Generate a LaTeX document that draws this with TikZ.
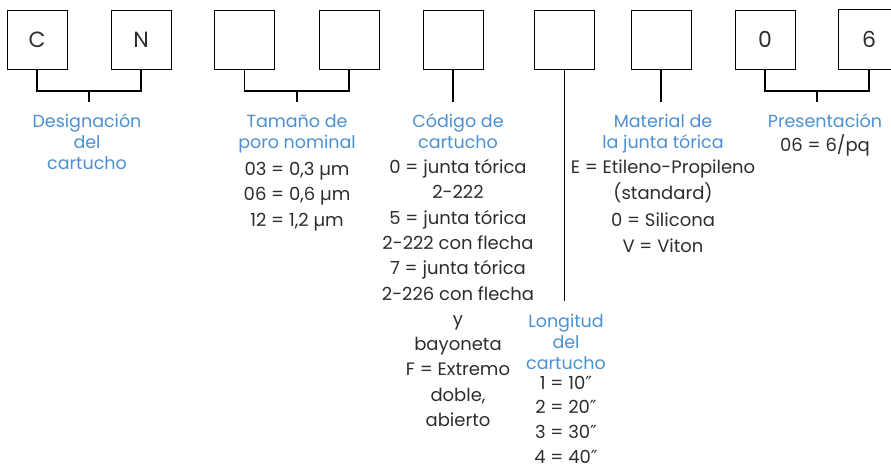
\documentclass[tikz,border=0pt]{standalone}
\usepackage{fontspec}
\setmainfont{Poppins}
\newfontfamily\dvfont{DejaVu Sans}
\newcommand{\dprime}{{\dvfont ″}}
\definecolor{tblue}{RGB}{74,144,210}
\definecolor{tgray}{RGB}{45,45,45}
\begin{document}
\begin{tikzpicture}[x=1pt,y=-1pt,
  cbox/.style={draw=black,line width=0.8pt,minimum width=60pt,minimum height=59pt,inner sep=0pt,font=\fontsize{22}{22}\selectfont,text=tgray},
  conn/.style={line width=1.6pt,black},
  ttl/.style={anchor=base,align=center,inner sep=0pt,text=tblue,font=\fontsize{17.5}{21}\selectfont},
  body/.style={anchor=base,align=center,inner sep=0pt,text=tgray,font=\fontsize{18}{25.3}\selectfont}]
\useasboundingbox (0,0) rectangle (891,469);
% boxes
\node[cbox] (b1) at (37,39.5) {C};
\node[cbox] (b2) at (141,39.5) {N};
\node[cbox] (b3) at (244.5,39.5) {};
\node[cbox] (b4) at (349,39.5) {};
\node[cbox] (b5) at (453,39.5) {};
\node[cbox] (b6) at (564.5,39.5) {};
\node[cbox] (b7) at (661,39.5) {};
\node[cbox] (b8) at (765,39.5) {0};
\node[cbox,draw=none] (b9) at (869,39.5) {6};
\coordinate (redge) at (891,0);
\draw[line width=0.8pt] (b9.north west -| redge) -- (b9.north west) -- (b9.south west) -- (b9.south west -| redge);
% junction coordinates
\coordinate (j1) at (89,102);
\coordinate (j2) at (296.75,102);
\coordinate (j5) at (453,102);
\coordinate (j6) at (564.5,301);
\coordinate (j7) at (661,102);
\coordinate (j8) at (817,102);
\coordinate (h) at (0,90.7);
% connectors
\draw[conn] (b1.south) -- (b1.south |- h) -- (b2.south |- h) -- (b2.south);
\draw[conn] (j1 |- h) -- (j1);
\draw[conn] (b3.south) -- (b3.south |- h) -- (b4.south |- h) -- (b4.south);
\draw[conn] (j2 |- h) -- (j2);
\draw[conn] (b5.south) -- (j5);
\draw[conn] (b6.south) -- (j6);
\draw[conn] (b7.south) -- (j7);
\draw[conn] (b8.south) -- (b8.south |- h) -- (b9.south |- h) -- (b9.south);
\draw[conn] (j8 |- h) -- (j8);
% labels (anchor base = baseline of the last line)
\node[ttl] (t1) at (87,169) {Designación\\del\\cartucho};
\node[ttl] (t2) at (297,148) {Tamaño de\\poro nominal};
\node[body] (d2) at (297,226) {03 = 0,3 µm\\06 = 0,6 µm\\12 = 1,2 µm};
\node[ttl] (t3) at (458,148) {Código de\\cartucho};
\node[body] (d3) at (458,426.5) {0 = junta tórica\\2-222\\5 = junta tórica\\2-222 con flecha\\7 = junta tórica\\2-226 con flecha\\y\\bayoneta\\F = Extremo\\doble,\\abierto};
\node[ttl] (t6) at (566,369) {Longitud\\del\\cartucho};
\node[body,font=\fontsize{18}{24.6}\selectfont] (d6) at (566,463) {1 = 10\dprime\\2 = 20\dprime\\3 = 30\dprime\\4 = 40\dprime};
\node[ttl] (t7) at (663,148) {Material de\\la junta tórica};
\node[body,font=\fontsize{18}{26.5}\selectfont] (d7) at (663,252.5) {E = Etileno-Propileno\\(standard)\\0 = Silicona\\V = Viton};
\node[ttl] (t8) at (825,127) {Presentación};
\node[body] (d8) at (825,151.7) {06 = 6/pq};
\end{tikzpicture}
\end{document}
